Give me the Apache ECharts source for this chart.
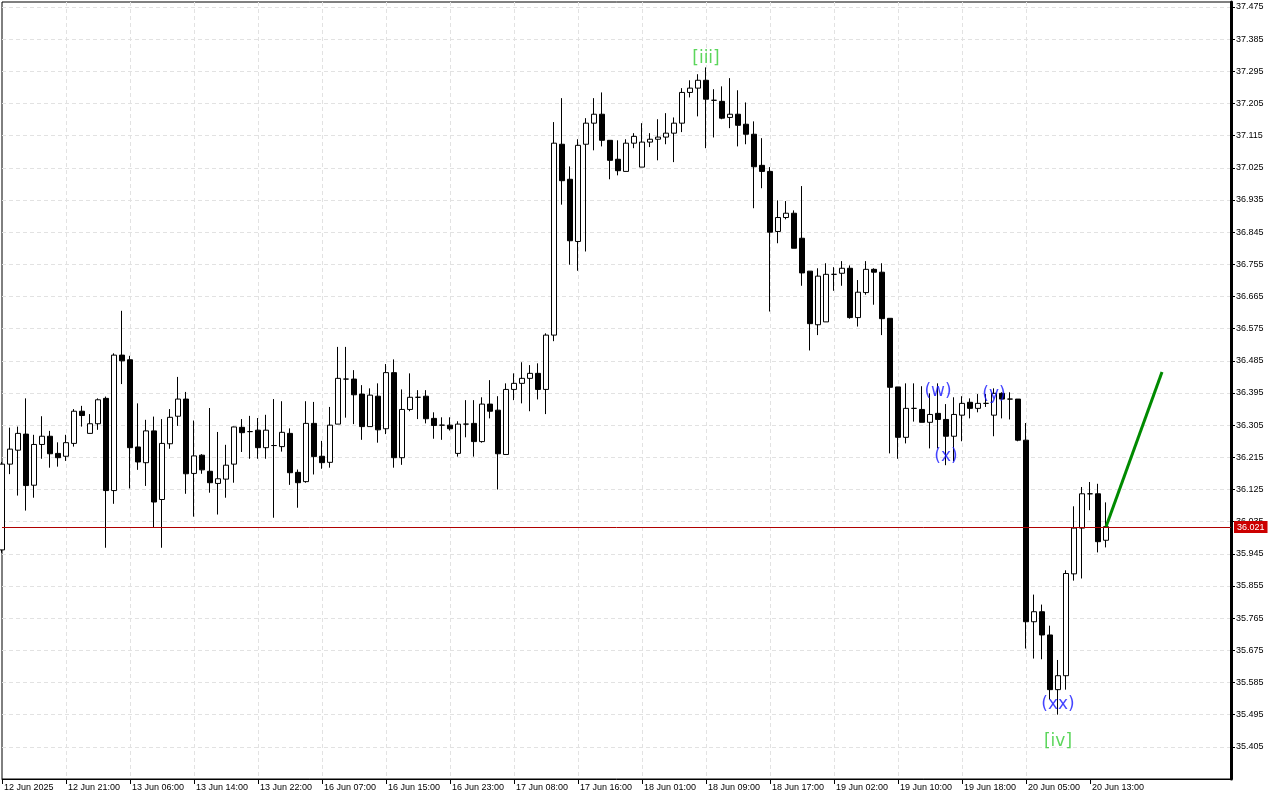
<!DOCTYPE html>
<html>
<head>
<meta charset="utf-8">
<script src="https://cdn.jsdelivr.net/npm/echarts@6/dist/echarts.min.js"></script>
<style>
html,body{margin:0;padding:0;background:#fff;}
#chart{width:1280px;height:800px;}
</style>
</head>
<body>
<div id="chart"></div>
<script>
// time axis labels, one every 8 hourly candles
const tickLabels = ["12 Jun 2025","12 Jun 21:00","13 Jun 06:00","13 Jun 14:00","13 Jun 22:00","16 Jun 07:00","16 Jun 15:00","16 Jun 23:00","17 Jun 08:00","17 Jun 16:00","18 Jun 01:00","18 Jun 09:00","18 Jun 17:00","19 Jun 02:00","19 Jun 10:00","19 Jun 18:00","20 Jun 05:00","20 Jun 13:00"];

const opens = [35.956,36.196,36.235,36.280,36.137,36.251,36.274,36.226,36.218,36.254,
36.344,36.282,36.309,36.380,36.122,36.501,36.488,36.244,36.200,36.289,
36.097,36.253,36.330,36.378,36.170,36.221,36.176,36.142,36.154,36.196,
36.299,36.287,36.291,36.242,36.248,36.245,36.282,36.173,36.147,36.310,
36.218,36.201,36.308,36.434,36.434,36.392,36.301,36.386,36.295,36.452,
36.214,36.349,36.383,36.386,36.324,36.305,36.305,36.226,36.308,36.310,
36.259,36.364,36.347,36.223,36.405,36.422,36.436,36.450,36.405,36.557,
37.091,36.993,36.819,37.091,37.150,37.175,37.102,37.049,37.015,37.094,
37.027,37.097,37.105,37.111,37.122,37.150,37.236,37.248,37.270,37.214,
37.211,37.166,37.175,37.147,37.119,37.032,37.015,36.847,36.886,36.898,
36.828,36.736,36.586,36.594,36.727,36.730,36.744,36.606,36.676,36.741,
36.733,36.604,36.412,36.271,36.352,36.349,36.313,36.338,36.321,36.274,
36.333,36.369,36.352,36.366,36.333,36.394,36.378,36.378,36.263,35.755,
35.783,35.718,35.565,35.604,35.889,36.017,36.113,36.113,35.983];

const highs = [36.202,36.298,36.301,36.380,36.278,36.330,36.289,36.257,36.278,36.350,
36.359,36.336,36.380,36.385,36.506,36.625,36.499,36.366,36.320,36.329,
36.322,36.350,36.440,36.398,36.318,36.224,36.353,36.286,36.250,36.301,
36.322,36.331,36.325,36.334,36.378,36.372,36.296,36.181,36.372,36.370,
36.261,36.356,36.524,36.524,36.459,36.417,36.408,36.422,36.476,36.489,
36.405,36.450,36.403,36.403,36.341,36.327,36.327,36.316,36.375,36.375,
36.383,36.431,36.386,36.422,36.450,36.481,36.473,36.478,36.562,37.153,
37.220,37.029,37.105,37.164,37.220,37.236,37.102,37.102,37.105,37.122,
37.150,37.122,37.161,37.178,37.166,37.248,37.270,37.287,37.306,37.245,
37.253,37.276,37.242,37.208,37.155,37.108,37.027,36.934,36.932,36.906,
36.974,36.736,36.744,36.758,36.747,36.764,36.752,36.711,36.764,36.744,
36.758,36.604,36.412,36.422,36.422,36.414,36.394,36.422,36.364,36.383,
36.386,36.380,36.392,36.392,36.408,36.397,36.397,36.378,36.311,35.831,
35.803,35.744,35.648,35.899,36.078,36.132,36.146,36.141,36.089];

const lows = [35.948,36.168,36.108,36.066,36.102,36.211,36.186,36.189,36.205,36.245,
36.301,36.282,36.292,35.962,36.085,36.420,36.128,36.180,36.135,36.020,
35.962,36.239,36.303,36.113,36.049,36.169,36.116,36.055,36.102,36.144,
36.230,36.211,36.211,36.211,36.046,36.231,36.138,36.074,36.144,36.167,
36.183,36.186,36.308,36.326,36.308,36.264,36.301,36.256,36.280,36.186,
36.194,36.344,36.322,36.310,36.267,36.264,36.290,36.217,36.271,36.217,
36.256,36.324,36.125,36.223,36.375,36.366,36.344,36.377,36.336,36.540,
36.922,36.754,36.737,36.791,37.074,37.085,36.993,37.004,37.015,37.080,
37.027,37.083,37.046,37.091,37.041,37.125,37.222,37.169,37.080,37.110,
37.161,37.136,37.085,37.091,36.912,36.968,36.623,36.814,36.881,36.800,
36.695,36.514,36.557,36.594,36.681,36.695,36.603,36.581,36.670,36.642,
36.557,36.226,36.211,36.254,36.315,36.313,36.240,36.240,36.193,36.204,
36.260,36.324,36.341,36.356,36.274,36.324,36.321,36.260,35.680,35.652,
35.650,35.538,35.495,35.565,35.870,35.876,36.067,35.949,35.963];

const closes = [36.196,36.238,36.282,36.136,36.251,36.274,36.225,36.214,36.256,36.344,
36.332,36.309,36.376,36.122,36.501,36.485,36.242,36.202,36.289,36.090,
36.254,36.327,36.378,36.169,36.219,36.180,36.144,36.155,36.193,36.300,
36.284,36.287,36.242,36.291,36.248,36.285,36.172,36.144,36.310,36.217,
36.200,36.305,36.436,36.434,36.390,36.301,36.389,36.292,36.452,36.214,
36.349,36.383,36.383,36.323,36.304,36.305,36.295,36.308,36.308,36.259,
36.364,36.344,36.225,36.405,36.422,36.436,36.450,36.405,36.557,37.094,
36.989,36.821,37.088,37.150,37.175,37.102,37.046,37.017,37.094,37.113,
37.097,37.105,37.111,37.122,37.150,37.236,37.248,37.270,37.217,37.214,
37.164,37.175,37.144,37.119,37.028,37.015,36.845,36.886,36.898,36.800,
36.731,36.589,36.722,36.727,36.727,36.744,36.606,36.677,36.741,36.733,
36.603,36.411,36.271,36.352,36.352,36.313,36.335,36.321,36.274,36.335,
36.366,36.352,36.366,36.366,36.394,36.378,36.378,36.263,35.755,35.783,
35.718,35.565,35.604,35.890,36.017,36.113,36.113,35.979,36.021];

const currentPrice = 36.021;
const forecastX = [138, 145];
const forecastY = [36.021, 36.454];

const waveText = ["[iii]", "(w)", "(x)", "(y)", "(xx)", "[iv]"];
const waveX = [88, 117, 118, 124, 132, 132];
const waveY = [37.332, 36.398, 36.216, 36.390, 35.522, 35.419];
const waveGreen = [true, false, false, false, false, true];

const candleData = opens.map((o, i) => [i, o, closes[i], lows[i], highs[i]]);
const labelTicks = tickLabels.map((t, i) => i * 8);

const greenLabels = [], blueLabels = [];
waveText.forEach((t, i) => {
  (waveGreen[i] ? greenLabels : blueLabels).push([waveX[i], waveY[i], t]);
});

const FONT = "'Liberation Sans', Arial, sans-serif";
const WAVEFONT = "'DejaVu Sans', sans-serif";
const gridDash = { color: '#e2e2e2', width: 1, type: [4, 3] };

const chart = echarts.init(document.getElementById('chart'), null, { renderer: 'canvas' });
chart.setOption({
  animation: false,
  backgroundColor: '#ffffff',
  grid: { left: 2, right: 49, top: 2, bottom: 21, show: true, borderColor: '#000', borderWidth: 1, backgroundColor: '#fff' },
  xAxis: {
    type: 'value', min: 0, max: (1231 - 2) / 8, interval: 4,
    axisLine: { show: true, onZero: false, lineStyle: { color: '#000', width: 1 } },
    axisTick: { show: true, length: 5, customValues: labelTicks, lineStyle: { color: '#000' } },
    axisLabel: {
      customValues: labelTicks, color: '#000', fontSize: 9, fontFamily: FONT,
      align: 'left', margin: 4, padding: [0, 0, 0, 2],
      formatter: v => tickLabels[Math.round(v / 8)] || ''
    },
    splitLine: { show: true, showMinLine: false, showMaxLine: false, lineStyle: gridDash }
  },
  yAxis: {
    type: 'value', position: 'right', min: 35.315, max: 37.489, interval: 0.09, scale: true,
    axisLine: { show: true, onZero: false, lineStyle: { color: '#000', width: 3 } },
    axisTick: { show: true, length: 4, lineStyle: { color: '#000' } },
    axisLabel: { color: '#000', fontSize: 9, fontFamily: FONT, margin: 5, showMinLabel: false, showMaxLabel: false,
      formatter: v => v.toFixed(3) },
    splitLine: { show: true, showMinLine: false, showMaxLine: false, lineStyle: gridDash }
  },
  series: [
    {
      type: 'candlestick',
      data: candleData,
      encode: { x: 0, y: [1, 2, 3, 4] },
      barWidth: 5,
      clip: true,
      itemStyle: { color: '#ffffff', color0: '#000000', borderColor: '#000000', borderColor0: '#000000', borderColorDoji: '#000000', borderWidth: 1 },
      markLine: {
        silent: true, symbol: 'none', animation: false,
        data: [{ yAxis: currentPrice }],
        lineStyle: { color: '#b00000', width: 1, type: 'solid' },
        label: { show: true, position: 'end', distance: 3, formatter: () => currentPrice.toFixed(3),
          color: '#fff', backgroundColor: '#cc0000', padding: [2, 3, 1, 3], fontSize: 9, fontFamily: FONT }
      }
    },
    {
      type: 'line', data: forecastX.map((x, i) => [x, forecastY[i]]), symbol: 'none',
      lineStyle: { color: '#008a00', width: 3 }, z: 5
    },
    {
      type: 'scatter', data: greenLabels, symbolSize: 0, z: 6,
      label: { show: true, position: 'inside', formatter: p => p.data[2], color: '#33cc33', fontSize: 17, fontFamily: WAVEFONT }
    },
    {
      type: 'scatter', data: blueLabels, symbolSize: 0, z: 6,
      label: { show: true, position: 'inside', formatter: p => p.data[2], color: '#1414ff', fontSize: 17, fontFamily: WAVEFONT }
    }
  ]
});
</script>
</body>
</html>
